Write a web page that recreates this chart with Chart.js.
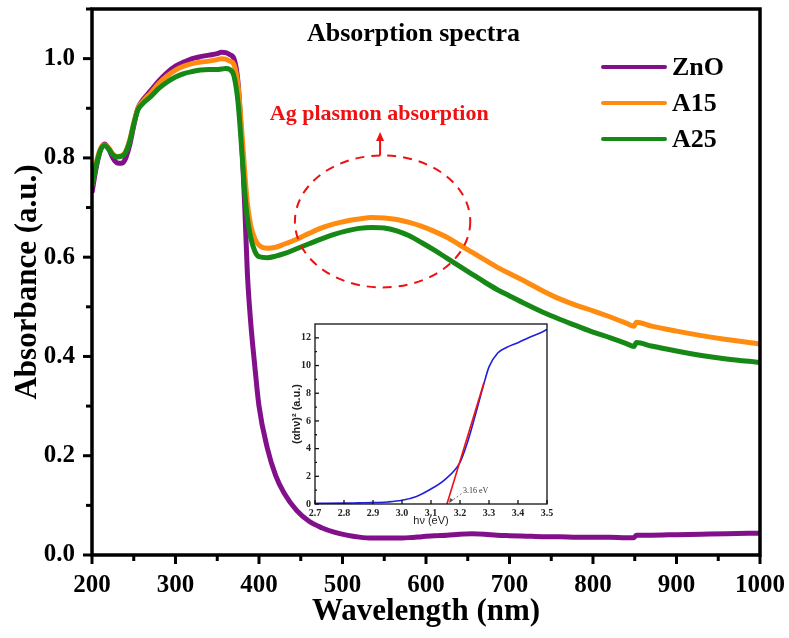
<!DOCTYPE html>
<html>
<head>
    <title>Absorption spectra</title>
    <script src="https://cdn.jsdelivr.net/npm/chart.js"></script>
    <style>
        body { margin: 0; background: #fff; }
        #wrap { position: relative; width: 789px; height: 638px; }
        #mainChart { position: absolute; left: 0; top: 0; }
        #insetChart { position: absolute; left: 270px; top: 312px; }
    </style>
</head>
<body>
<div id="wrap">
    <canvas id="mainChart" width="789" height="638"></canvas>
    <canvas id="insetChart" width="285" height="225"></canvas>
</div>
<script>
    // Main spectra (wavelength in nm, absorbance in a.u.)
    const wavelength = [200, 205, 210, 215, 220, 225, 230, 235, 240, 245, 250, 255, 260, 265, 270,
        280, 290, 300, 310, 320, 330, 340, 350,
        355, 360, 365, 370, 375, 380,
        383, 386, 390, 395, 400,
        410, 420, 430,
        445, 460, 475, 490, 505, 520, 535, 550, 565, 580, 595, 610, 625, 640, 655, 670, 685, 700,
        720, 740, 760, 780, 800, 820, 840,
        849, 852, 870,
        900, 930, 960, 1000];

    const znoAbs = [0.73, 0.78, 0.815, 0.828, 0.818, 0.80, 0.79, 0.789, 0.798, 0.825, 0.865, 0.9, 0.915, 0.925, 0.935,
        0.955, 0.972, 0.985, 0.993, 1.0, 1.004, 1.007, 1.01,
        1.013, 1.012, 1.008, 1.0, 0.95, 0.81,
        0.70, 0.57, 0.47, 0.38, 0.30,
        0.215, 0.16, 0.125,
        0.09, 0.068, 0.055, 0.046, 0.04, 0.036, 0.034, 0.034, 0.034, 0.035, 0.037, 0.039, 0.04, 0.042, 0.043, 0.042, 0.04, 0.039,
        0.038, 0.037, 0.037, 0.036, 0.036, 0.036, 0.035,
        0.035, 0.04, 0.04,
        0.041, 0.042, 0.043, 0.044];

    const a15Abs = [0.745, 0.79, 0.818, 0.826, 0.82, 0.808, 0.803, 0.804, 0.812, 0.835, 0.87, 0.9, 0.912, 0.922, 0.93,
        0.95, 0.965, 0.977, 0.985, 0.99, 0.993, 0.995, 0.998,
        1.0, 0.999, 0.995, 0.988, 0.945, 0.84,
        0.77, 0.71, 0.665, 0.637, 0.624,
        0.618, 0.62, 0.626,
        0.636, 0.648, 0.659, 0.667, 0.673, 0.677, 0.68, 0.679, 0.676, 0.67, 0.662, 0.652, 0.64, 0.625, 0.61, 0.595, 0.58, 0.567,
        0.55, 0.532, 0.516, 0.503, 0.492, 0.48, 0.467,
        0.461, 0.469, 0.461,
        0.451, 0.442, 0.434, 0.425];

    const a25Abs = [0.745, 0.785, 0.815, 0.825, 0.818, 0.806, 0.802, 0.803, 0.81, 0.832, 0.868, 0.897, 0.908, 0.916, 0.923,
        0.94, 0.953, 0.963, 0.97, 0.974, 0.977, 0.978, 0.978,
        0.979, 0.98, 0.978, 0.965, 0.91, 0.8,
        0.73, 0.68, 0.64, 0.612, 0.601,
        0.599, 0.602, 0.607,
        0.617, 0.627, 0.637, 0.646, 0.653, 0.658, 0.66, 0.659, 0.653, 0.643, 0.629, 0.614, 0.598, 0.582, 0.566, 0.55, 0.535, 0.522,
        0.505, 0.489, 0.475, 0.462, 0.449, 0.438, 0.426,
        0.42, 0.428, 0.421,
        0.411, 0.402, 0.395, 0.388];

    const seriesNames = ['ZnO', 'A15', 'A25'];
    const seriesColors = ['#82108a', '#ff8c10', '#168816'];

    const xMajor = [200, 300, 400, 500, 600, 700, 800, 900, 1000];
    const xMinor = [250, 350, 450, 550, 650, 750, 850, 950];
    const yMajor = [0.0, 0.2, 0.4, 0.6, 0.8, 1.0];
    const yMinor = [0.1, 0.3, 0.5, 0.7, 0.9, 1.1];

    // Inset: Tauc plot
    const energy = [2.7, 2.8, 2.85, 2.9, 2.95, 3.0, 3.05, 3.1, 3.15, 3.2, 3.225, 3.25, 3.28, 3.3, 3.33, 3.36, 3.4, 3.44, 3.47, 3.5];
    const tauc = [0.05, 0.06, 0.08, 0.1, 0.15, 0.27, 0.55, 1.08, 1.8, 3.0, 4.4, 6.2, 8.5, 9.9, 10.9, 11.3, 11.65, 12.05, 12.3, 12.6];
    const fitEnergy = [3.155, 3.283];
    const fitTauc = [0, 8.8];
    const insetXTicks = [2.7, 2.8, 2.9, 3.0, 3.1, 3.2, 3.3, 3.4, 3.5];
    const insetYTicks = [0, 2, 4, 6, 8, 10, 12];
    const insetYMinor = [1, 3, 5, 7, 9, 11];

    const serif = "'Liberation Serif', 'Times New Roman', serif";
    const sans = "'Liberation Sans', Arial, sans-serif";

    function toPoints(xs, ys) {
        return xs.map((v, i) => ({ x: v, y: ys[i] }));
    }

    function seg(ctx, x1, y1, x2, y2) {
        ctx.beginPath();
        ctx.moveTo(x1, y1);
        ctx.lineTo(x2, y2);
        ctx.stroke();
    }

    // frame, ticks, legend and annotations of the main plot
    const mainDecor = {
        id: 'mainDecor',
        afterDatasetsDraw(chart) {
            const { ctx, chartArea: a, scales: { x, y } } = chart;
            ctx.save();

            // dashed ellipse round the plasmon band
            const cx = x.getPixelForValue(548), cy = y.getPixelForValue(0.672);
            const rx = x.getPixelForValue(653) - cx, ry = cy - y.getPixelForValue(0.805);
            ctx.strokeStyle = '#ee1111';
            ctx.lineWidth = 2;
            ctx.setLineDash([9, 7]);
            ctx.beginPath();
            ctx.ellipse(cx, cy, rx, ry, 0, 0, Math.PI * 2);
            ctx.stroke();
            ctx.setLineDash([]);

            // arrow up to the label
            const ax = x.getPixelForValue(545);
            const aBase = y.getPixelForValue(0.805), aTip = y.getPixelForValue(0.852);
            seg(ctx, ax, aBase, ax, aTip + 6);
            ctx.fillStyle = '#ee1111';
            ctx.beginPath();
            ctx.moveTo(ax, aTip);
            ctx.lineTo(ax - 4, aTip + 9);
            ctx.lineTo(ax + 4, aTip + 9);
            ctx.closePath();
            ctx.fill();

            ctx.font = 'bold 22px ' + serif;
            ctx.textAlign = 'center';
            ctx.textBaseline = 'middle';
            ctx.fillText('Ag plasmon absorption', x.getPixelForValue(544), y.getPixelForValue(0.887));

            ctx.fillStyle = '#000';
            ctx.font = 'bold 26px ' + serif;
            ctx.fillText('Absorption spectra', x.getPixelForValue(585), y.getPixelForValue(1.05));

            // legend
            ctx.textAlign = 'left';
            ctx.font = 'bold 26px ' + serif;
            chart.data.datasets.forEach((ds, i) => {
                const ly = a.top + 58 + i * 36;
                ctx.strokeStyle = ds.borderColor;
                ctx.lineWidth = 4;
                ctx.lineCap = 'round';
                seg(ctx, a.right - 157, ly, a.right - 95, ly);
                ctx.fillStyle = '#000';
                ctx.fillText(ds.label, a.right - 88, ly + 1);
            });
            ctx.lineCap = 'butt';

            // frame and ticks
            ctx.strokeStyle = '#000';
            ctx.lineWidth = 3.5;
            ctx.strokeRect(a.left, a.top, a.right - a.left, a.bottom - a.top);
            ctx.lineWidth = 3;
            xMajor.forEach(v => { const p = x.getPixelForValue(v); seg(ctx, p, a.bottom, p, a.bottom + 9); });
            xMinor.forEach(v => { const p = x.getPixelForValue(v); seg(ctx, p, a.bottom, p, a.bottom + 6); });
            yMajor.forEach(v => { const p = y.getPixelForValue(v); seg(ctx, a.left, p, a.left - 9, p); });
            yMinor.forEach(v => { const p = y.getPixelForValue(v); seg(ctx, a.left, p, a.left - 6, p); });
            ctx.restore();
        }
    };

    const mainChart = new Chart(document.getElementById('mainChart').getContext('2d'), {
        type: 'line',
        data: {
            datasets: [
                { label: seriesNames[0], data: toPoints(wavelength, znoAbs), borderColor: seriesColors[0], order: 2 },
                { label: seriesNames[1], data: toPoints(wavelength, a15Abs), borderColor: seriesColors[1], order: 1 },
                { label: seriesNames[2], data: toPoints(wavelength, a25Abs), borderColor: seriesColors[2], order: 0 }
            ]
        },
        options: {
            responsive: false,
            animation: false,
            layout: { padding: { left: 0, right: 29, top: 9, bottom: 0 } },
            elements: {
                line: { borderWidth: 5, cubicInterpolationMode: 'monotone', fill: false },
                point: { radius: 0 }
            },
            plugins: { legend: { display: false }, tooltip: { enabled: false } },
            scales: {
                x: {
                    type: 'linear',
                    min: 200,
                    max: 1000,
                    grid: { display: false, drawTicks: false, tickLength: 0 },
                    border: { display: false },
                    afterBuildTicks: s => { s.ticks = xMajor.map(v => ({ value: v })); },
                    afterFit: s => { s.height = 83; s.paddingLeft = 0; s.paddingRight = 0; },
                    ticks: {
                        color: '#000',
                        padding: 16,
                        maxRotation: 0,
                        font: { family: serif, size: 25, weight: 'bold' },
                        callback: v => String(v)
                    },
                    title: {
                        display: true,
                        text: 'Wavelength (nm)',
                        color: '#000',
                        padding: { bottom: 7 },
                        font: { family: serif, size: 31, weight: 'bold' }
                    }
                },
                y: {
                    min: 0,
                    max: 1.1,
                    grid: { display: false, drawTicks: false, tickLength: 0 },
                    border: { display: false },
                    afterBuildTicks: s => { s.ticks = yMajor.map(v => ({ value: v })); },
                    afterFit: s => { s.width = 92; s.paddingTop = 0; s.paddingBottom = 0; },
                    ticks: {
                        color: '#000',
                        padding: 17,
                        font: { family: serif, size: 25, weight: 'bold' },
                        callback: v => Number(v).toFixed(1)
                    },
                    title: {
                        display: true,
                        text: 'Absorbance (a.u.)',
                        color: '#000',
                        padding: { top: 9 },
                        font: { family: serif, size: 31, weight: 'bold' }
                    }
                }
            }
        },
        plugins: [mainDecor]
    });

    // frame, ticks and band-gap note of the inset
    const insetDecor = {
        id: 'insetDecor',
        afterDatasetsDraw(chart) {
            const { ctx, chartArea: a, scales: { x, y } } = chart;
            ctx.save();
            ctx.strokeStyle = '#111';
            ctx.lineWidth = 1.3;
            ctx.strokeRect(a.left, a.top, a.right - a.left, a.bottom - a.top);
            insetXTicks.forEach(v => { const p = x.getPixelForValue(v); seg(ctx, p, a.bottom, p, a.bottom - 4); });
            insetYTicks.forEach(v => { const p = y.getPixelForValue(v); seg(ctx, a.left, p, a.left + 4, p); });
            insetYMinor.forEach(v => { const p = y.getPixelForValue(v); seg(ctx, a.left, p, a.left + 2, p); });

            // dotted pointer to the intercept
            const x1 = x.getPixelForValue(3.205), y1 = y.getPixelForValue(0.75);
            const x2 = x.getPixelForValue(3.162), y2 = y.getPixelForValue(0.08);
            ctx.strokeStyle = '#555';
            ctx.lineWidth = 0.8;
            ctx.setLineDash([2, 2]);
            seg(ctx, x1, y1, x2, y2);
            ctx.setLineDash([]);
            ctx.fillStyle = '#555';
            ctx.beginPath();
            ctx.moveTo(x2, y2);
            ctx.lineTo(x2 + 1, y2 - 5);
            ctx.lineTo(x2 + 4.5, y2 - 3);
            ctx.closePath();
            ctx.fill();

            ctx.fillStyle = '#333';
            ctx.font = '8px ' + serif;
            ctx.textAlign = 'left';
            ctx.textBaseline = 'middle';
            ctx.fillText('3.16 eV', x.getPixelForValue(3.21), y.getPixelForValue(0.95));
            ctx.restore();
        }
    };

    const insetChart = new Chart(document.getElementById('insetChart').getContext('2d'), {
        type: 'line',
        data: {
            datasets: [
                { label: 'Tauc', data: toPoints(energy, tauc), borderColor: '#1f1fdd', borderWidth: 1.6, order: 1 },
                { label: 'Fit', data: toPoints(fitEnergy, fitTauc), borderColor: '#ee1111', borderWidth: 1.6, order: 0 }
            ]
        },
        options: {
            responsive: false,
            animation: false,
            layout: { padding: { left: 0, right: 8, top: 12, bottom: 0 } },
            elements: {
                line: { cubicInterpolationMode: 'monotone', fill: false },
                point: { radius: 0 }
            },
            plugins: { legend: { display: false }, tooltip: { enabled: false } },
            scales: {
                x: {
                    type: 'linear',
                    min: 2.7,
                    max: 3.5,
                    grid: { display: false, drawTicks: false, tickLength: 0 },
                    border: { display: false },
                    afterBuildTicks: s => { s.ticks = insetXTicks.map(v => ({ value: v })); },
                    afterFit: s => { s.height = 33; s.paddingLeft = 0; s.paddingRight = 0; },
                    ticks: {
                        color: '#222',
                        padding: 3,
                        maxRotation: 0,
                        font: { family: serif, size: 10, weight: 'bold' },
                        callback: v => Number(v).toFixed(1)
                    },
                    title: {
                        display: true,
                        text: 'hν (eV)',
                        color: '#222',
                        padding: { bottom: 9 },
                        font: { family: sans, size: 11 }
                    }
                },
                y: {
                    min: 0,
                    max: 13,
                    grid: { display: false, drawTicks: false, tickLength: 0 },
                    border: { display: false },
                    afterBuildTicks: s => { s.ticks = insetYTicks.map(v => ({ value: v })); },
                    afterFit: s => { s.width = 45; s.paddingTop = 0; s.paddingBottom = 0; },
                    ticks: {
                        color: '#222',
                        padding: 4,
                        font: { family: serif, size: 10, weight: 'bold' },
                        callback: v => String(v)
                    },
                    title: {
                        display: true,
                        text: '(αhν)² (a.u.)',
                        color: '#222',
                        padding: { top: 20 },
                        font: { family: sans, size: 11, weight: 'bold' }
                    }
                }
            }
        },
        plugins: [insetDecor]
    });
</script>
</body>
</html>
